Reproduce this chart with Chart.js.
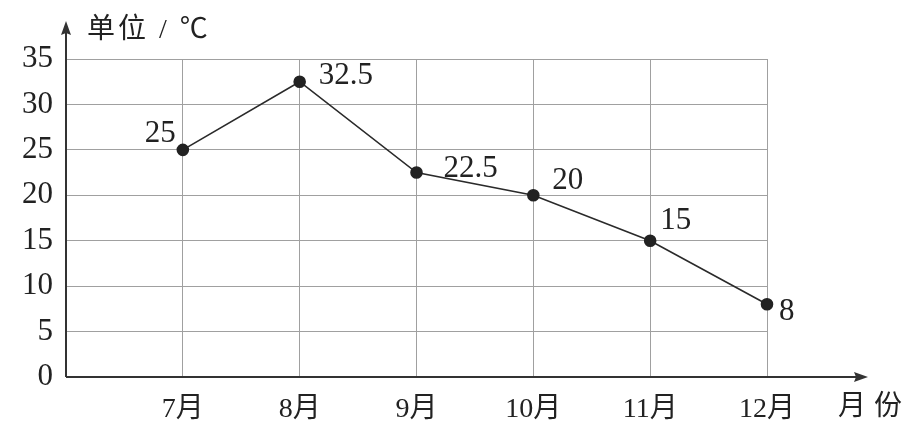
<!DOCTYPE html>
<html><head><meta charset="utf-8">
<script src="https://cdn.jsdelivr.net/npm/chart.js@4"></script>
<style>html,body{margin:0;padding:0;background:#fff}#wrap{width:916px;height:435px}</style>
</head><body><div id="wrap"><canvas id="c" width="916" height="435"></canvas></div>
<script>
const months = ['7月','8月','9月','10月','11月','12月'];
const temps = [25, 32.5, 22.5, 20, 15, 8];
const valueLabels = ['25','32.5','22.5','20','15','8'];
const yTicks = [0,5,10,15,20,25,30,35];
const yTitle = '单位 / ℃';
const xTitle = '月份';

const FONT = "'Liberation Serif','Noto Sans CJK SC',serif";
const labels = [''].concat(months);
const data = [null].concat(temps);
// label placement offsets (dx, dy, align) relative to each point
const labelPlace = [
  [-7,-16,'right'],[19,-6,'left'],[27,-4,'left'],[19,-14,'left'],[10,-20,'left'],[12,8,'left']
];

const deco = {
  id:'deco',
  afterDatasetsDraw(chart){
    const {ctx, chartArea:a, scales:{x,y}} = chart;
    ctx.save();
    ctx.strokeStyle='#333'; ctx.fillStyle='#333'; ctx.lineWidth=2;
    const x0 = a.left, y0 = y.getPixelForValue(0);
    // x axis
    ctx.beginPath(); ctx.moveTo(x0,y0); ctx.lineTo(860,y0); ctx.stroke();
    ctx.beginPath(); ctx.moveTo(868,y0); ctx.lineTo(854,y0-5); ctx.lineTo(856,y0); ctx.lineTo(854,y0+5); ctx.closePath(); ctx.fill();
    // y axis
    ctx.beginPath(); ctx.moveTo(x0,y0); ctx.lineTo(x0,30); ctx.stroke();
    ctx.beginPath(); ctx.moveTo(x0,21); ctx.lineTo(x0-5,35); ctx.lineTo(x0,33); ctx.lineTo(x0+5,35); ctx.closePath(); ctx.fill();
    // titles
    ctx.fillStyle='#222';
    ctx.font = "28px " + FONT;
    ctx.textBaseline='middle'; ctx.textAlign='left';
    ctx.letterSpacing = '3px';
    ctx.fillText(yTitle, 87, 31);
    ctx.letterSpacing = '8px';
    ctx.fillText(xTitle, 838, 408);
    ctx.letterSpacing = '0px';
    // value labels
    ctx.font = "31px " + FONT;
    const meta = chart.getDatasetMeta(0);
    temps.forEach((v,i)=>{
      const p = meta.data[i+1];
      const [dx,dy,al] = labelPlace[i];
      ctx.textAlign = al;
      ctx.fillText(valueLabels[i], p.x+dx, p.y+dy);
    });
    ctx.restore();
  }
};

new Chart(document.getElementById('c'), {
  type:'line',
  data:{labels, datasets:[{data, borderColor:'#2a2a2a', borderWidth:1.6, pointRadius:5.5,
    pointBackgroundColor:'#222', pointBorderColor:'#222', tension:0, spanGaps:false}]},
  options:{
    responsive:false, animation:false, devicePixelRatio:1,
    layout:{padding:{top:59, right:149, left:0, bottom:0}},
    plugins:{legend:{display:false}, tooltip:{enabled:false}},
    scales:{
      x:{type:'category', offset:false,
        grid:{color:'#a0a0a0', lineWidth:1, drawTicks:false},
        border:{display:false},
        ticks:{font:{family:FONT,size:28}, color:'#222', padding:16, maxRotation:0, autoSkip:false},
        afterFit(s){ s.height = 58; }
      },
      y:{min:0, max:35,
        afterBuildTicks(s){ s.ticks = yTicks.map(v=>({value:v})); },
        grid:{color:'#a0a0a0', lineWidth:1, drawTicks:false},
        border:{display:false},
        ticks:{font:{family:FONT,size:31}, color:'#222', padding:13},
        afterFit(s){ s.width = 66; }
      }
    }
  },
  plugins:[deco]
});
</script></body></html>
